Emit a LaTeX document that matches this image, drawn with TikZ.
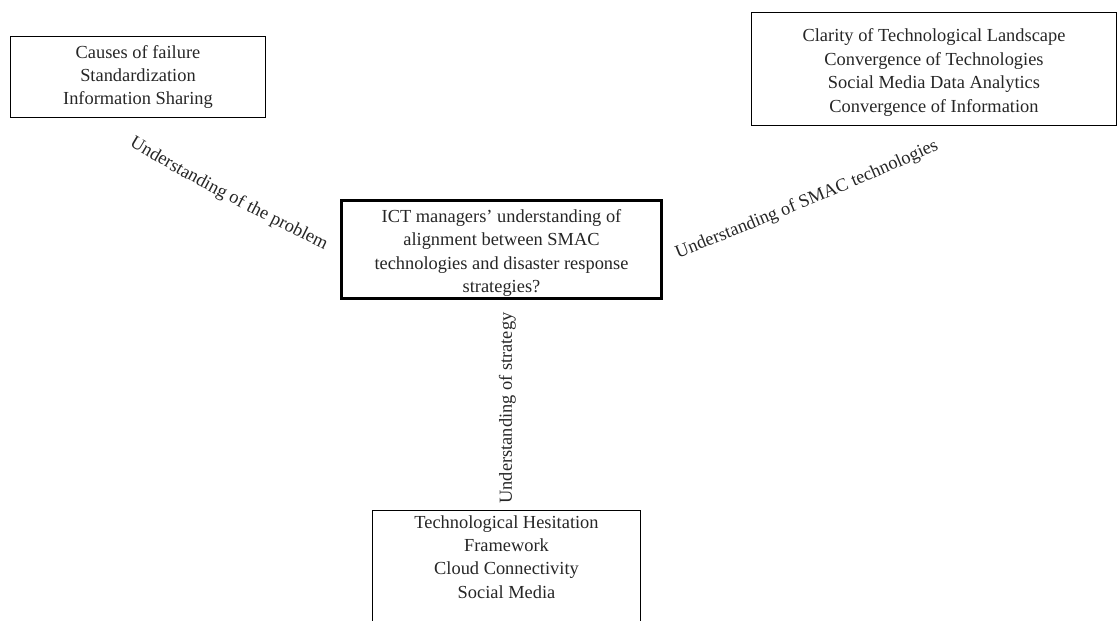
\documentclass[tikz,border=0pt]{standalone}
\usepackage{fontspec}
\setmainfont{Liberation Serif}
\usetikzlibrary{decorations.text}
\begin{document}
\begin{tikzpicture}[x=1pt,y=-1pt,
  txt/.style={font=\fontsize{18.4}{23.4}\selectfont, text=black!85},
  box/.style={txt, draw=black, line width=1.2pt, align=center, inner sep=0pt},
  mainbox/.style={box, line width=2.8pt},
  lbl/.style={txt, inner sep=0pt},
  curvelbl/.style={decorate, decoration={text along path, text align=center,
     text={|\fontsize{18.4}{23.4}\selectfont\color{black!85}|#1}}}]
\useasboundingbox (0,0) rectangle (1117,621);
\node[box, minimum width=254.8, minimum height=80.8] (cause) at (138,77)
  {Causes of failure\\Standardization\\Information Sharing};
\node[box, minimum width=364.8, minimum height=112.8] (smac) at (934,69)
  {\rule{0pt}{20pt}Clarity of Technological Landscape\\Convergence of Technologies\\Social Media Data Analytics\\Convergence of Information};
\node[mainbox, minimum width=320, minimum height=98.2] (main) at (501.5,249.5)
  {\rule{0pt}{20pt}ICT managers' understanding of\\alignment between SMAC\\technologies and disaster response\\strategies?};
\node[box, minimum width=267.8, minimum height=140, anchor=north] (strat) at (506.5,510) {};
\node[lbl, align=center] (strattxt) at (506.5,557) {Technological Hesitation\\Framework\\Cloud Connectivity\\Social Media};
\node[lbl, rotate=90] (lstrat) at (507.5,408) {Understanding of strategy};
\coordinate (pa) at (123,142);
\coordinate (pb) at (331,253);
\path[curvelbl={Understanding of the problem}] (pa) .. controls (190,183) and (260,218) .. (pb);
\coordinate (sa) at (671,261);
\coordinate (sb) at (946,146);
\path[curvelbl={Understanding of SMAC technologies}] (sa) .. controls (760,226) and (860,186) .. (sb);
\end{tikzpicture}
\end{document}
